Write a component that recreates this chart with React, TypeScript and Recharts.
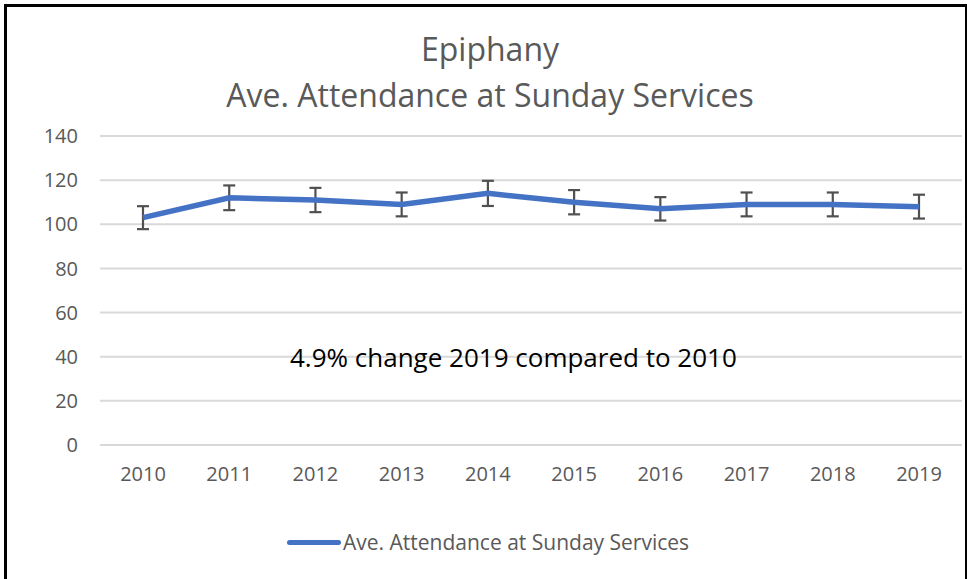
import { LineChart, Line, XAxis, YAxis, CartesianGrid, ErrorBar } from 'recharts'

const FONT = '"Open Sans", sans-serif'
const BLUE = '#4472C4'
const GREY = '#595959'

const years = ['2010', '2011', '2012', '2013', '2014', '2015', '2016', '2017', '2018', '2019']
const attendance = [103, 112, 111, 109, 114, 110, 107, 109, 109, 108]
const errors = [5.2, 5.6, 5.5, 5.4, 5.7, 5.5, 5.3, 5.4, 5.4, 5.4]
const yTicks = [0, 20, 40, 60, 80, 100, 120, 140]

const SERIES = 'Ave. Attendance at Sunday Services'

const data = years.map((y, i) => ({ year: y, value: attendance[i], err: errors[i] }))

export default function App() {
  return (
    <div style={{ position: 'absolute', left: 0, top: 0, width: 967, height: 579, overflow: 'hidden', background: '#fff' }}>
      <div style={{ position: 'absolute', left: 0, top: 26, width: 980, textAlign: 'center', fontFamily: FONT, fontSize: 32, color: GREY, lineHeight: '46px' }}>
        <div>Epiphany</div>
        <div>{SERIES}</div>
      </div>
      <div style={{ position: 'absolute', left: 0, top: 0 }}>
        <LineChart width={967} height={579} data={data} margin={{ top: 136, right: 5, bottom: 104, left: 0 }}>
          <CartesianGrid horizontal vertical={false} stroke="#d9d9d9" strokeWidth={2} />
          <XAxis dataKey="year" axisLine={false} tickLine={false} tickMargin={16} padding={{ left: 43, right: 43 }}
            tick={{ fontSize: 20, fill: GREY, fontFamily: FONT }} />
          <YAxis width={100} domain={[0, 140]} ticks={yTicks} axisLine={false} tickLine={false} tickMargin={16}
            tick={{ fontSize: 20, fill: GREY, fontFamily: FONT }} />
          <Line dataKey="value" name={SERIES} stroke={BLUE} strokeWidth={5.5} dot={false} isAnimationActive={false}>
            <ErrorBar dataKey="err" direction="y" width={6} stroke="#505050" strokeWidth={2.2} isAnimationActive={false} />
          </Line>
        </LineChart>
      </div>
      <div style={{ position: 'absolute', left: 4, top: 4, width: 958, height: 620, border: '3px solid #000', pointerEvents: 'none' }} />
      <div style={{ position: 'absolute', left: 290, top: 339, fontFamily: FONT, fontSize: 26, color: '#000', whiteSpace: 'nowrap' }}>
        4.9% change 2019 compared to 2010
      </div>
      <div style={{ position: 'absolute', left: 287, top: 528, display: 'flex', alignItems: 'center', fontFamily: FONT, fontSize: 21, color: GREY, whiteSpace: 'nowrap' }}>
        <span style={{ width: 54, height: 5, background: BLUE, borderRadius: 3, display: 'inline-block' }} />
        <span style={{ marginLeft: 2 }}>{SERIES}</span>
      </div>
    </div>
  )
}
